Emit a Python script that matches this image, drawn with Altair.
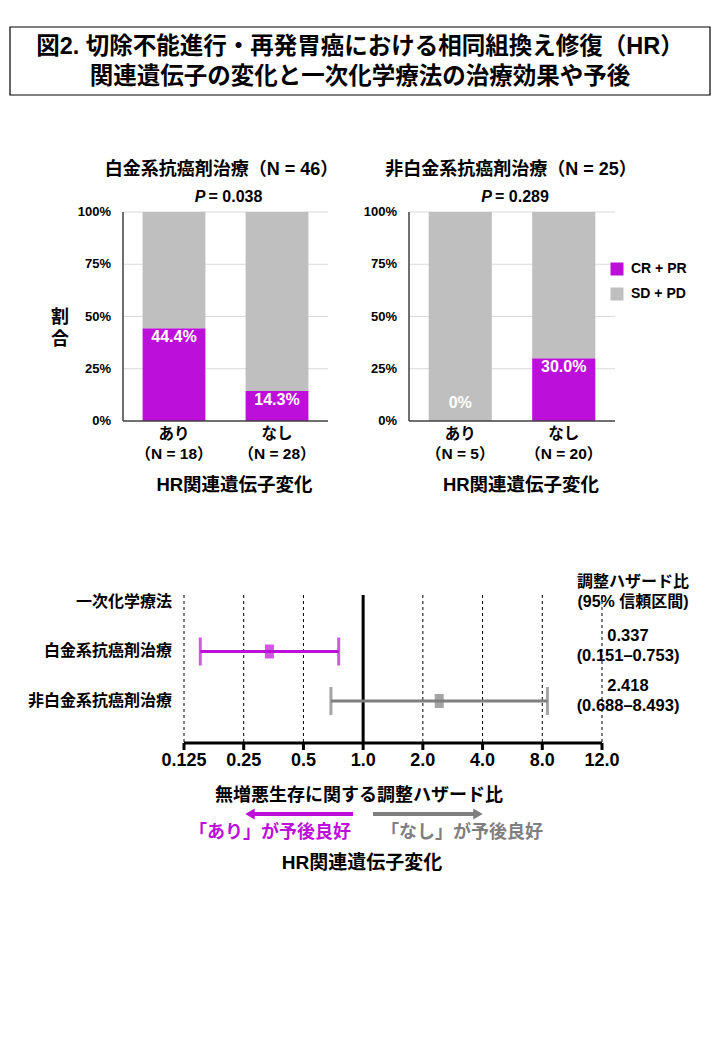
import altair as alt
import pandas as pd

FONT = "'Liberation Sans', 'Noto Sans CJK JP', sans-serif"
PURPLE = "#BD0FDA"
GRAY_BAR = "#BFBFBF"
GRAY_FOREST = "#7F7F7F"
AXIS_DARK = "#404040"

# ---------------- data ----------------
title_lines = ["図2. 切除不能進行・再発胃癌における相同組換え修復（HR）",
               "関連遺伝子の変化と一次化学療法の治療効果や予後"]

responses = ["CR + PR", "SD + PD"]
x_title = "HR関連遺伝子変化"
y_title = "割\n合"

plat_title = "白金系抗癌剤治療（N = 46）"
plat_p = "= 0.038"
plat_groups = ["あり\n（N = 18）", "なし\n（N = 28）"]
plat_crpr = [44.4, 14.3]
plat_sdpd = [55.6, 85.7]

nonplat_title = "非白金系抗癌剤治療（N = 25）"
nonplat_p = "= 0.289"
nonplat_groups = ["あり\n（N = 5）", "なし\n（N = 20）"]
nonplat_crpr = [0.0, 30.0]
nonplat_sdpd = [100.0, 70.0]

y_ticks = [0, 25, 50, 75, 100]

forest_header = "一次化学療法"
forest_rows = ["白金系抗癌剤治療", "非白金系抗癌剤治療"]
forest_idx = [1, 2]
forest_hr = [0.337, 2.418]
forest_lo = [0.151, 0.688]
forest_hi = [0.753, 8.493]
forest_colors = [PURPLE, GRAY_FOREST]
x_tick_values = [0.125, 0.25, 0.5, 1, 2, 4, 8, 16]
x_tick_labels = ["0.125", "0.25", "0.5", "1.0", "2.0", "4.0", "8.0", "12.0"]
hr_header = ["調整ハザード比", "(95% 信頼区間)"]
forest_xtitle = "無増悪生存に関する調整ハザード比"
better_left = "「あり」が予後良好"
better_right = "「なし」が予後良好"

one = pd.DataFrame({"a": [0]})


def txt(text, x, y, size, color="black", align="center", style="normal",
        weight="bold", baseline="middle", line_height=22):
    return alt.Chart(one).mark_text(
        text=text, font=FONT, fontSize=size, fontWeight=weight, fontStyle=style,
        color=color, align=align, baseline=baseline, lineBreak="\n", lineHeight=line_height
    ).encode(x=alt.value(x), y=alt.value(y))


# ---------------- title box ----------------
title_layers = [
    alt.Chart(one).mark_rect(fill="white", stroke="black", strokeWidth=1.2).encode(
        x=alt.value(2), x2=alt.value(702), y=alt.value(19), y2=alt.value(87)),
    txt(title_lines[0], 352, 38.5, 23.5),
    txt(title_lines[1], 352, 68.5, 23.5),
]

# ---------------- bar panels ----------------
Y_RANGE = [413, 204]


def bar_panel(groups, crpr, sdpd, xr, title, pval, first):
    rows = []
    for g, a, b in zip(groups, crpr, sdpd):
        rows.append({"group": g, "resp": responses[0], "pct": a, "ord": 0})
        rows.append({"group": g, "resp": responses[1], "pct": b, "ord": 1})
    df = pd.DataFrame(rows)
    tdf = pd.DataFrame({"v": y_ticks})
    gdf = pd.DataFrame({"group": groups})

    xs = alt.Scale(domain=groups, range=xr, paddingInner=0.39, paddingOuter=0.19)
    ys = alt.Scale(domain=[0, 100], range=Y_RANGE)
    X = alt.X("group:N", scale=xs, axis=None, sort=groups)

    if first:
        legend = None
    else:
        legend = alt.Legend(title=None, orient="none", legendX=602, legendY=254,
                            symbolType="square", symbolSize=169, symbolStrokeWidth=0,
                            labelFont=FONT, labelFontSize=14, labelFontWeight="bold",
                            labelColor="black", rowPadding=11, labelOffset=7, padding=0)

    grid = alt.Chart(tdf).transform_filter(alt.datum.v > 0).mark_rule(
        color="#D9D9D9", strokeWidth=1).encode(
        y=alt.Y("v:Q", scale=ys, axis=None), x=alt.value(xr[0]), x2=alt.value(xr[1]))
    bars = alt.Chart(df).mark_bar().encode(
        x=X,
        y=alt.Y("pct:Q", stack="zero", scale=ys, axis=None),
        color=alt.Color("resp:N", scale=alt.Scale(domain=responses, range=[PURPLE, GRAY_BAR]),
                        legend=legend),
        order=alt.Order("ord:Q"),
    )
    labels = alt.Chart(df).transform_filter(
        alt.datum.resp == responses[0]
    ).transform_calculate(
        lab="datum.pct == 0 ? '0%' : format(datum.pct, '.1f') + '%'",
        ly="datum.pct > 0 ? datum.pct : 13",
    ).mark_text(color="white", font=FONT, fontSize=16, fontWeight="bold",
                baseline="middle", dy=9).encode(
        x=X, y=alt.Y("ly:Q", scale=ys, axis=None), text="lab:N")
    yline = alt.Chart(one).mark_rule(color=AXIS_DARK, strokeWidth=1.5).encode(
        x=alt.value(xr[0]), y=alt.Y(datum=0, scale=ys, axis=None), y2=alt.Y2(datum=100))
    xline = alt.Chart(one).mark_rule(color=AXIS_DARK, strokeWidth=1.5).encode(
        y=alt.Y(datum=0, scale=ys, axis=None), x=alt.value(xr[0]), x2=alt.value(xr[1]))
    ylabels = alt.Chart(tdf).transform_calculate(lab="datum.v + '%'").mark_text(
        align="right", baseline="middle", font=FONT, fontSize=13, fontWeight="bold",
        color="black").encode(
        y=alt.Y("v:Q", scale=ys, axis=None), x=alt.value(xr[0] - 12), text="lab:N")
    xlabels = alt.Chart(gdf).mark_text(
        align="center", baseline="top", font=FONT, fontSize=15.5, fontWeight="bold",
        color="black", lineBreak="\n", lineHeight=20).encode(
        x=X, y=alt.value(419), text="group:N")

    cx = (xr[0] + xr[1]) / 2
    layers = [grid, bars, labels, yline, xline, ylabels, xlabels,
              txt(title, cx - 4 if first else cx - 1, 162, 18),
              txt("P", cx - 20, 189, 16, align="right", style="italic"),
              txt(pval, cx - 17, 189, 16, align="left"),
              txt(x_title, cx + 9, 477, 18.5)]
    if first:
        layers.append(txt(y_title, 52, 310, 18))
    return alt.layer(*layers)


panel1 = bar_panel(plat_groups, plat_crpr, plat_sdpd, [115, 320], plat_title, plat_p, True)
panel2 = bar_panel(nonplat_groups, nonplat_crpr, nonplat_sdpd, [401, 607],
                   nonplat_title, nonplat_p, False)

# ---------------- forest ----------------
fdf = pd.DataFrame({"row": forest_rows, "idx": forest_idx, "hr": forest_hr,
                    "lo": forest_lo, "hi": forest_hi, "col": forest_colors})
ldf = pd.DataFrame({"label": [forest_header] + forest_rows, "idx": [0] + forest_idx})
kdf = pd.DataFrame({"v": x_tick_values, "lab": x_tick_labels})

FX = [176, 594]
FY = [587, 735]
xs_f = alt.Scale(type="log", base=2, domain=[x_tick_values[0], x_tick_values[-1]], range=FX)
ys_f = alt.Scale(domain=[-0.141, 2.848], range=FY)
Yf = alt.Y("idx:Q", scale=ys_f, axis=None)
Cf = alt.Color("col:N", scale=None)

fgrid = alt.Chart(kdf).mark_rule(color="black", strokeWidth=1, strokeDash=[3, 3]).encode(
    x=alt.X("v:Q", scale=xs_f, axis=None), y=alt.value(FY[0]), y2=alt.value(FY[1]))
fref = alt.Chart(one).mark_rule(color="black", strokeWidth=3).encode(
    x=alt.X(datum=1, scale=xs_f, axis=None), y=alt.value(FY[0]), y2=alt.value(FY[1]))
faxis = alt.Chart(one).mark_rule(color="black", strokeWidth=3).encode(
    x=alt.X(datum=x_tick_values[0], scale=xs_f, axis=None),
    x2=alt.X2(datum=x_tick_values[-1]), y=alt.value(FY[1]))
fticks = alt.Chart(kdf).mark_rule(color="black", strokeWidth=3).encode(
    x=alt.X("v:Q", scale=xs_f, axis=None), y=alt.value(FY[1]), y2=alt.value(FY[1] + 7))
flabels = alt.Chart(kdf).mark_text(
    align="center", baseline="middle", font=FONT, fontSize=18, fontWeight="bold",
    color="black").encode(x=alt.X("v:Q", scale=xs_f, axis=None), y=alt.value(753),
                          text="lab:N")
whisk = alt.Chart(fdf).mark_rule(strokeWidth=3).encode(
    x=alt.X("lo:Q", scale=xs_f, axis=None), x2="hi:Q", y=Yf, color=Cf)
cap_lo = alt.Chart(fdf).mark_tick(orient="vertical", size=28, thickness=3).encode(
    x=alt.X("lo:Q", scale=xs_f, axis=None), y=Yf, color=Cf)
cap_hi = alt.Chart(fdf).mark_tick(orient="vertical", size=28, thickness=3).encode(
    x=alt.X("hi:Q", scale=xs_f, axis=None), y=Yf, color=Cf)
pt = alt.Chart(fdf).mark_tick(orient="vertical", size=14, thickness=9).encode(
    x=alt.X("hr:Q", scale=xs_f, axis=None), y=Yf, color=Cf)
rowlab = alt.Chart(ldf).mark_text(align="right", baseline="middle", font=FONT,
                                  fontSize=16, fontWeight="bold", color="black").encode(
    x=alt.value(164), y=Yf, text="label:N")
hr_txt = alt.Chart(fdf).transform_calculate(
    t="format(datum.hr, '.3f')"
).mark_text(align="center", baseline="middle", font=FONT, fontSize=16.5,
            fontWeight="bold", color="black", dy=-15).encode(
    x=alt.value(620), y=Yf, text="t:N")
ci_txt = alt.Chart(fdf).transform_calculate(
    t="'(' + format(datum.lo, '.3f') + '–' + format(datum.hi, '.3f') + ')'"
).mark_text(align="center", baseline="middle", font=FONT, fontSize=16.5,
            fontWeight="bold", color="black", dy=5).encode(
    x=alt.value(620), y=Yf, text="t:N")

forest = alt.layer(fgrid, fref, faxis, fticks, flabels, whisk, cap_lo, cap_hi, pt,
                   rowlab, hr_txt, ci_txt)

# ---------------- annotations under forest ----------------
ARROW_Y = 806
arrow_layers = [
    alt.Chart(one).mark_rule(color=PURPLE, strokeWidth=4).encode(
        x=alt.value(345), x2=alt.value(244), y=alt.value(ARROW_Y)),
    alt.Chart(one).mark_point(shape="triangle-left", filled=True, size=121,
                              color=PURPLE, opacity=1).encode(
        x=alt.value(242), y=alt.value(ARROW_Y)),
    alt.Chart(one).mark_rule(color=GRAY_FOREST, strokeWidth=4).encode(
        x=alt.value(365), x2=alt.value(468), y=alt.value(ARROW_Y)),
    alt.Chart(one).mark_point(shape="triangle-right", filled=True, size=121,
                              color=GRAY_FOREST, opacity=1).encode(
        x=alt.value(470), y=alt.value(ARROW_Y)),
]

static_layers = [
    txt(hr_header[0], 625, 574, 16),
    txt(hr_header[1], 625, 594, 16),
    txt(forest_xtitle, 351, 788, 18),
    txt(better_left, 262, 825, 18, color=PURPLE),
    txt(better_right, 454, 825, 18, color=GRAY_FOREST),
    txt(x_title, 354, 855, 19),
]

chart = alt.layer(
    *title_layers, panel1, panel2, forest, *arrow_layers, *static_layers
).resolve_scale(
    x="independent", y="independent", color="independent"
).properties(
    width=704, height=900, padding=0,
    autosize=alt.AutoSizeParams(type="none")
).configure(font=FONT).configure_view(stroke="transparent", strokeWidth=0)

chart.save("out.html", embed_options={"renderer": "svg", "actions": False})
